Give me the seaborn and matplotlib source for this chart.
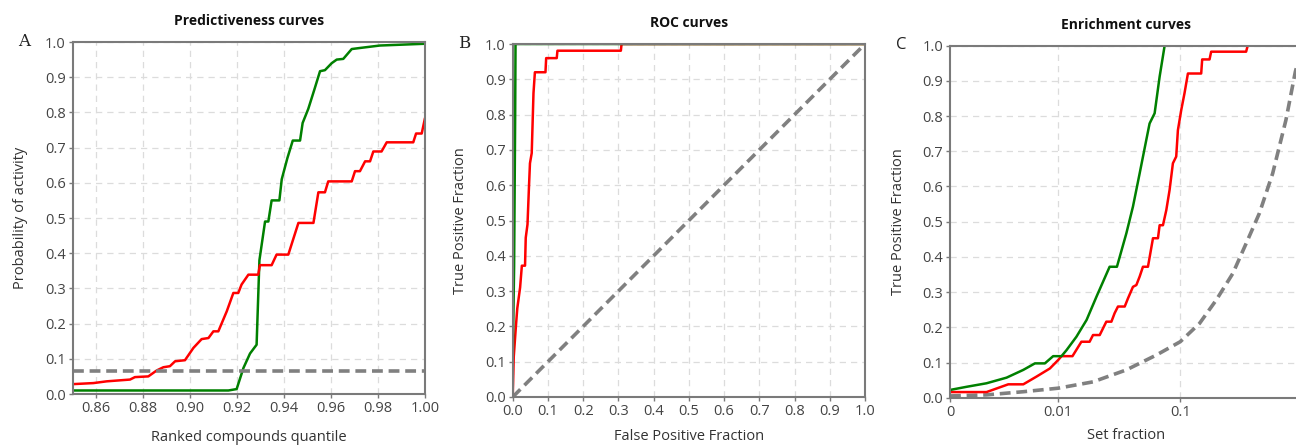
import matplotlib
matplotlib.use('Agg')
import matplotlib.pyplot as plt
import seaborn as sns
import numpy as np
import pandas as pd

# ---- datos ----
# A: predictiveness
pred_green_x = [0.85, 0.9163, 0.9198, 0.9227, 0.9255, 0.9283, 0.9295, 0.9319, 0.9333, 0.9347,
                0.9380, 0.9390, 0.9414, 0.9437, 0.9468, 0.9479, 0.9503, 0.9529, 0.9553, 0.9574,
                0.9603, 0.9624, 0.9652, 0.9688, 0.9723, 0.9808, 1.0]
pred_green_y = [0.010, 0.010, 0.014, 0.074, 0.115, 0.140, 0.380, 0.490, 0.490, 0.550,
                0.550, 0.610, 0.670, 0.720, 0.720, 0.770, 0.810, 0.865, 0.917, 0.920,
                0.940, 0.950, 0.952, 0.980, 0.983, 0.990, 0.995]
pred_red_x = [0.85, 0.8588, 0.8645, 0.8744, 0.8765, 0.8822, 0.8858, 0.8886, 0.8914, 0.8936,
              0.8978, 0.9014, 0.9049, 0.9078, 0.9099, 0.9120, 0.9156, 0.9184, 0.9205, 0.9219,
              0.9248, 0.9290, 0.9297, 0.9347, 0.9368, 0.9418, 0.9461, 0.9525, 0.9546, 0.9574,
              0.9588, 0.9688, 0.9702, 0.9723, 0.9745, 0.9766, 0.9780, 0.9815, 0.9837, 0.9950,
              0.9962, 0.9986, 1.0]
pred_red_y = [0.028, 0.031, 0.036, 0.041, 0.048, 0.050, 0.067, 0.076, 0.079, 0.093,
              0.096, 0.131, 0.156, 0.159, 0.178, 0.178, 0.235, 0.287, 0.287, 0.311,
              0.339, 0.339, 0.366, 0.366, 0.396, 0.396, 0.486, 0.486, 0.573, 0.573,
              0.604, 0.604, 0.633, 0.633, 0.661, 0.661, 0.689, 0.689, 0.715, 0.715,
              0.740, 0.740, 0.784]
pred_random = 0.066

# B: ROC
roc_green_x = [0.0, 0.0, 0.004, 0.007, 0.008, 1.0]
roc_green_y = [0.0, 0.10, 0.37, 0.80, 1.0, 1.0]
roc_red_x = [0.0, 0.003, 0.009, 0.013, 0.021, 0.026, 0.035, 0.037, 0.042, 0.046,
             0.049, 0.054, 0.059, 0.063, 0.093, 0.095, 0.125, 0.127, 0.307, 0.309, 1.0]
roc_red_y = [0.0, 0.114, 0.199, 0.251, 0.310, 0.372, 0.372, 0.451, 0.489, 0.591,
             0.662, 0.691, 0.861, 0.920, 0.920, 0.960, 0.960, 0.981, 0.981, 1.0, 1.0]
roc_diag = [0.0, 1.0]

# C: enrichment
enr_green_x = [0.0013, 0.00178, 0.00259, 0.00378, 0.00518, 0.00645, 0.00778, 0.0091, 0.01065, 0.0117,
               0.0141, 0.0171, 0.0206, 0.0264, 0.0303, 0.0362, 0.0410, 0.0465, 0.0527, 0.0561,
               0.0617, 0.0678, 0.0745, 1.0]
enr_green_y = [0.022, 0.031, 0.041, 0.057, 0.079, 0.0975, 0.0975, 0.118, 0.118, 0.135,
               0.173, 0.221, 0.287, 0.372, 0.372, 0.467, 0.543, 0.637, 0.732, 0.779,
               0.808, 0.912, 1.0, 1.0]
enr_red_x = [0.0013, 0.00259, 0.0039, 0.00518, 0.00665, 0.00855, 0.01, 0.01065, 0.0131, 0.0155,
             0.0181, 0.0193, 0.0219, 0.0248, 0.0273, 0.0290, 0.0309, 0.0351, 0.0373, 0.0410,
             0.0437, 0.0465, 0.0495, 0.0544, 0.0598, 0.0657, 0.0678, 0.0722, 0.0769, 0.0818,
             0.0871, 0.0927, 0.0957, 0.1019, 0.1084, 0.1156, 0.1485, 0.1513, 0.1738, 0.1792,
             0.3465, 0.357, 1.0]
enr_red_y = [0.016, 0.016, 0.038, 0.038, 0.060, 0.083, 0.107, 0.118, 0.118, 0.159,
             0.159, 0.178, 0.178, 0.216, 0.216, 0.240, 0.259, 0.259, 0.282, 0.315,
             0.320, 0.344, 0.372, 0.372, 0.453, 0.453, 0.490, 0.490, 0.533, 0.590,
             0.666, 0.685, 0.760, 0.817, 0.865, 0.921, 0.921, 0.961, 0.961, 0.983,
             0.983, 1.0, 1.0]
enr_rand_x = [0.0013, 0.00259, 0.00518, 0.01, 0.0193, 0.0362, 0.0636, 0.1, 0.1439, 0.1968,
              0.2696, 0.3465, 0.4452, 0.5716, 0.7345, 0.877, 1.0]
enr_rand_y = [0.005, 0.008, 0.017, 0.027, 0.045, 0.079, 0.121, 0.159, 0.211, 0.277,
              0.353, 0.438, 0.524, 0.637, 0.789, 0.926, 1.0]

titulos = ['Predictiveness curves', 'ROC curves', 'Enrichment curves']
letras = ['A', 'B', 'C']
xlabels = ['Ranked compounds quantile', 'False Positive Fraction', 'Set fraction']
ylabels = ['Probability of activity', 'True Positive Fraction', 'True Positive Fraction']

verde = '#008000'
rojo = '#ff0000'
gris = '#808080'

sns.set_theme(style='whitegrid')
plt.rcParams['font.family'] = ['Open Sans', 'DejaVu Sans']

fig = plt.figure(figsize=(12.96, 4.45), dpi=100)
W, H = 1296, 445
# posiciones en pixeles (izq, abajo, ancho, alto)
cajas = [(72.7, 394, 352.3, 352), (512.7, 397, 352.3, 353), (950, 397.7, 352.3, 352)]
axes = [fig.add_axes([l / W, 1 - b / H, w / W, h / H]) for l, b, w, h in cajas]

lw = 1.8
sns.lineplot(x=pred_green_x, y=pred_green_y, ax=axes[0], color=verde, lw=lw, sort=False, estimator=None)
sns.lineplot(x=pred_red_x, y=pred_red_y, ax=axes[0], color=rojo, lw=lw, sort=False, estimator=None)
axes[0].axhline(pred_random, color=gris, lw=2.6, ls=(0, (3, 1.6)))

sns.lineplot(x=roc_diag, y=roc_diag, ax=axes[1], color=gris, lw=2.6, ls=(0, (3, 1.6)))
sns.lineplot(x=roc_red_x, y=roc_red_y, ax=axes[1], color=rojo, lw=lw, sort=False, estimator=None)
sns.lineplot(x=roc_green_x, y=roc_green_y, ax=axes[1], color=verde, lw=lw, sort=False, estimator=None)

sns.lineplot(x=enr_rand_x, y=enr_rand_y, ax=axes[2], color=gris, lw=2.6, ls=(0, (3, 1.6)), sort=False, estimator=None)
sns.lineplot(x=enr_red_x, y=enr_red_y, ax=axes[2], color=rojo, lw=lw, sort=False, estimator=None)
sns.lineplot(x=enr_green_x, y=enr_green_y, ax=axes[2], color=verde, lw=lw, sort=False, estimator=None)

axes[0].set_xlim(0.85, 1.0)
axes[0].set_xticks(np.arange(0.86, 1.001, 0.02))
axes[0].set_xticklabels(['%.2f' % t for t in np.arange(0.86, 1.001, 0.02)])
axes[1].set_xlim(0, 1)
axes[1].set_xticks(np.arange(0, 1.01, 0.1))
axes[1].set_xticklabels(['%.1f' % t for t in np.arange(0, 1.01, 0.1)])
axes[2].set_xscale('log')
axes[2].set_xlim(0.0013, 1.0)
axes[2].set_xticks([0.0013, 0.01, 0.1])
axes[2].set_xticklabels(['0', '0.01', '0.1'])
axes[2].minorticks_off()

for i, ax in enumerate(axes):
    ax.set_ylim(0, 1)
    ax.set_yticks(np.arange(0, 1.01, 0.1))
    ax.set_yticklabels(['%.1f' % t for t in np.arange(0, 1.01, 0.1)])
    ax.grid(True, color='#dcdcdc', ls=(0, (5, 4)), lw=0.9)
    ax.set_facecolor('white')
    for s in ax.spines.values():
        s.set_color('#7a7a7a')
        s.set_linewidth(1.5)
    ax.tick_params(axis='both', labelsize=10.5, colors='#444444', length=3,
                   width=1, direction='out', pad=2, left=True, bottom=True)
    ax.tick_params(axis='both', color='#7a7a7a')
    ax.set_title(titulos[i], fontsize=10, fontweight='bold', color='#111111', pad=12)
    ax.set_xlabel(xlabels[i], fontsize=10.5, color='#333333', labelpad=[10, 7, 6][i])
    ax.set_ylabel(ylabels[i], fontsize=10.5, color='#333333', labelpad=12)
    ax.set_axisbelow(True)

axes[2].grid(False, axis='x')
for xv in [0.01, 0.1]:
    axes[2].axvline(xv, color='#dcdcdc', ls=(0, (5, 4)), lw=0.9, zorder=0)

fig.text(18 / W, 1 - 42 / H, 'A', fontsize=12, family='DejaVu Serif', color='#222222', va='center')
fig.text(458 / W, 1 - 44 / H, 'B', fontsize=12, family='DejaVu Serif', color='#222222', va='center')
fig.text(896 / W, 1 - 45 / H, 'C', fontsize=12, color='#222222', va='center')

fig.savefig('out.png', dpi=100)
